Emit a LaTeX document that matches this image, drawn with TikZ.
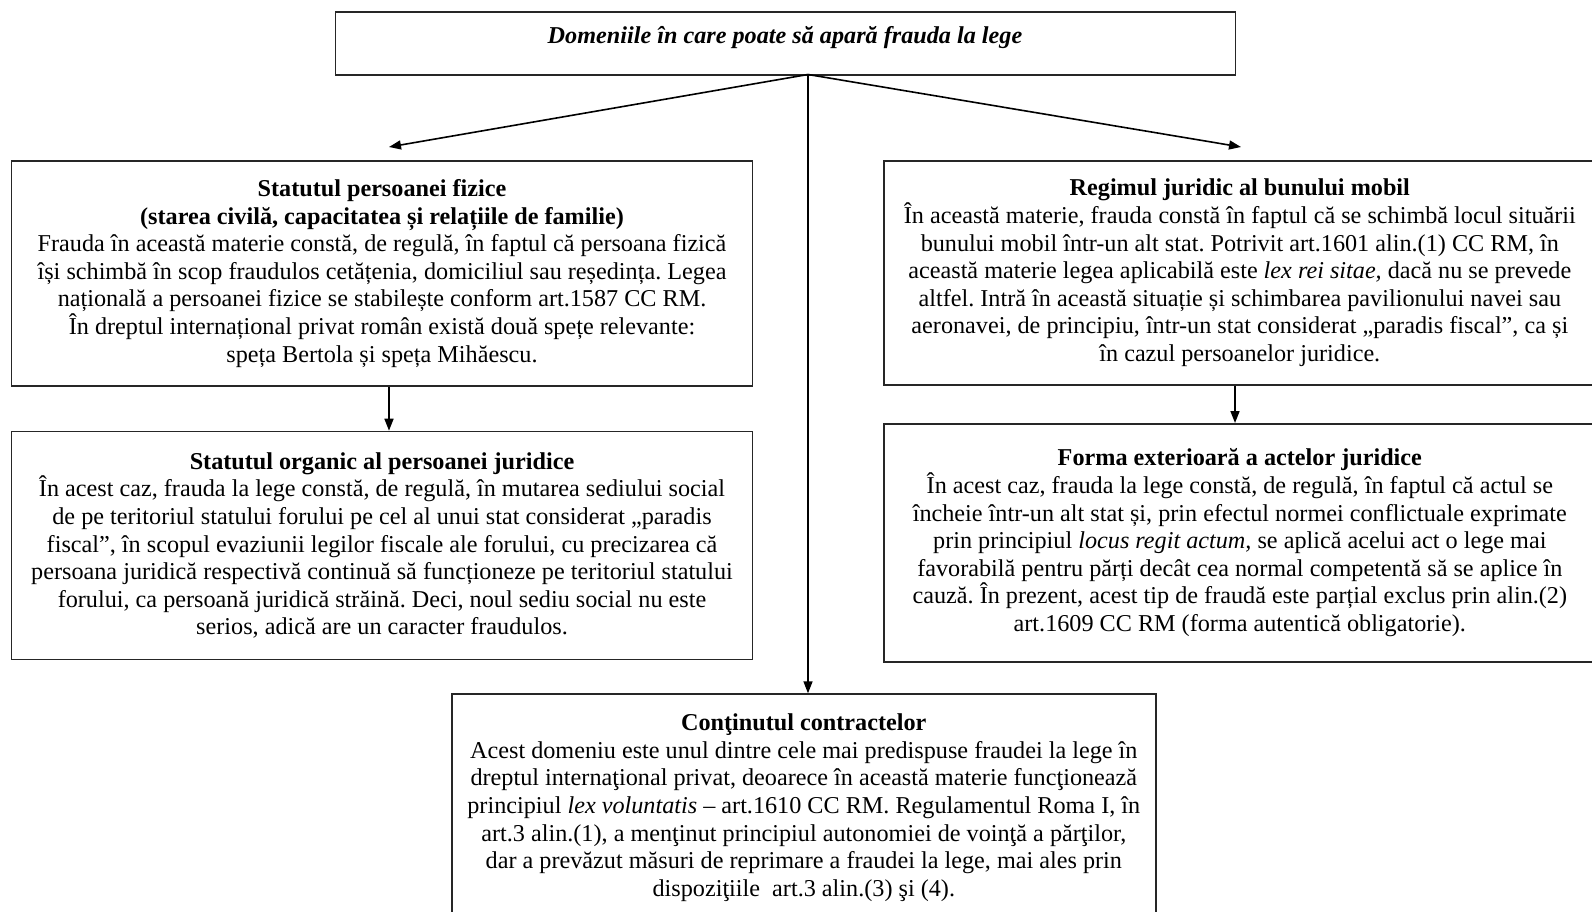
\documentclass[tikz,border=0pt]{standalone}
\usepackage{fontspec}
\setmainfont{Liberation Serif}
\usetikzlibrary{arrows.meta}
\frenchspacing
\begin{document}
\begin{tikzpicture}[x=1pt,y=-1pt,
  box/.style={draw=black!85, line width=1.6pt, anchor=north west, inner sep=0pt, align=center,
    font=\fontsize{24.2}{27.6}\selectfont},
  conn/.style={line width=1.6pt, -{Triangle[length=12pt,width=9pt]}}]
\clip (0,0) rectangle (1592,912);
\useasboundingbox (0,0) rectangle (1592,912);
\fill[white] (0,0) rectangle (1592,912);

\node[box, minimum width=900, minimum height=63] (top) at (334.5,11.5) {};
\node[font=\fontsize{24.2}{27.6}\selectfont\bfseries\itshape] (toptext) at (785,37.5) {Domeniile în care poate să apară frauda la lege};

\node[box, minimum width=741, minimum height=225] (lb1) at (10.7,160) {\textbf{Statutul persoanei fizice}\\
\textbf{(starea civilă, capacitatea și relațiile de familie)}\\
Frauda în această materie constă, de regulă, în faptul că persoana fizică\\
își schimbă în scop fraudulos cetățenia, domiciliul sau reședința. Legea\\
națională a persoanei fizice se stabilește conform art.1587 CC RM.\\
În dreptul internațional privat român există două spețe relevante:\\
speța Bertola și speța Mihăescu.};

\node[box, minimum width=712, minimum height=224] (rb1) at (883,160) {\textbf{Regimul juridic al bunului mobil}\\
În această materie, frauda constă în faptul că se schimbă locul situării\\
bunului mobil într-un alt stat. Potrivit art.1601 alin.(1) CC RM, în\\
această materie legea aplicabilă este \textit{lex rei sitae,} dacă nu se prevede\\
altfel. Intră în această situație și schimbarea pavilionului navei sau\\
aeronavei, de principiu, într-un stat considerat „paradis fiscal”, ca și\\
în cazul persoanelor juridice.};

\node[box, minimum width=741, minimum height=228] (lb2) at (10.7,430.7) {\textbf{Statutul organic al persoanei juridice}\\
În acest caz, frauda la lege constă, de regulă, în mutarea sediului social\\
de pe teritoriul statului forului pe cel al unui stat considerat „paradis\\
fiscal”, în scopul evaziunii legilor fiscale ale forului, cu precizarea că\\
persoana juridică respectivă continuă să funcționeze pe teritoriul statului\\
forului, ca persoană juridică străină. Deci, noul sediu social nu este\\
serios, adică are un caracter fraudulos.};

\node[box, minimum width=712, minimum height=238] (rb2) at (883,423) {\textbf{Forma exterioară a actelor juridice}\\
În acest caz, frauda la lege constă, de regulă, în faptul că actul se\\
încheie într-un alt stat și, prin efectul normei conflictuale exprimate\\
prin principiul \textit{locus regit actum,} se aplică acelui act o lege mai\\
favorabilă pentru părți decât cea normal competentă să se aplice în\\
cauză. În prezent, acest tip de fraudă este parțial exclus prin alin.(2)\\
art.1609 CC RM (forma autentică obligatorie).};

\node[box, minimum width=704, minimum height=227] (bot) at (451,693.3) {\textbf{Conţinutul contractelor}\\
Acest domeniu este unul dintre cele mai predispuse fraudei la lege în\\
dreptul internaţional privat, deoarece în această materie funcţionează\\
principiul \textit{lex voluntatis} – art.1610 CC RM. Regulamentul Roma I, în\\
art.3 alin.(1), a menţinut principiul autonomiei de voinţă a părţilor,\\
dar a prevăzut măsuri de reprimare a fraudei la lege, mai ales prin\\
dispoziţiile\ \ art.3 alin.(3) şi (4).};

\coordinate (hub) at (808,74.5);
\coordinate (ltip) at (389,147);
\coordinate (rtip) at (1241,147);
\draw[conn] (hub) -- (ltip);
\draw[conn] (hub) -- (rtip);
\draw[conn] (hub) -- (hub |- bot.north);
\draw[conn] (lb1.south -| ltip) -- (lb2.north -| ltip);
\draw[conn] (rb1.south -| 1235,0) -- (rb2.north -| 1235,0);
\end{tikzpicture}
\end{document}
